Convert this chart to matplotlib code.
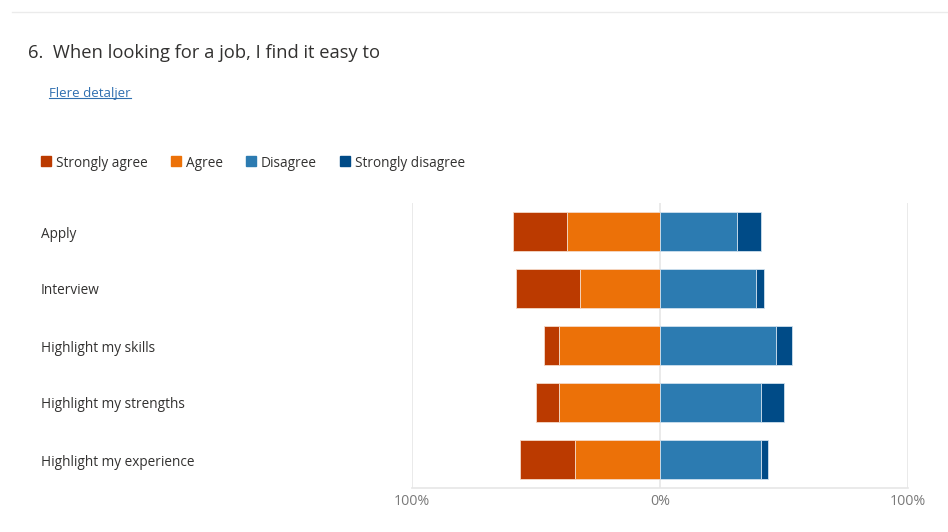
import matplotlib.pyplot as plt
from matplotlib.transforms import blended_transform_factory, offset_copy
from matplotlib.patches import Rectangle
from matplotlib.lines import Line2D

plt.rcParams['font.family'] = ['Open Sans', 'DejaVu Sans']

# survey data (percent of respondents)
questions = ['Apply', 'Interview', 'Highlight my skills',
             'Highlight my strengths', 'Highlight my experience']
strongly_agree = [21.9, 25.8, 6.2, 9.4, 21.9]
agree = [37.5, 32.3, 40.6, 40.6, 34.4]
disagree = [31.2, 38.7, 46.9, 40.6, 40.6]
strongly_disagree = [9.4, 3.2, 6.2, 9.4, 3.1]

series_names = ['Strongly agree', 'Agree', 'Disagree', 'Strongly disagree']
colors = ['#bb3a00', '#ec7108', '#2c7bb1', '#004b87']
tick_vals = [-100, 0, 100]
tick_labels = ['100%', '0%', '100%']

fig = plt.figure(figsize=(9.48, 5.32), dpi=100)
W, H = 948, 532

# thin separator at the top
fig.add_artist(Line2D([12 / W, 1], [1 - 12 / H, 1 - 12 / H], color='#ebebeb', lw=1))

fig.text(28 / W, 1 - 52.5 / H, '6.  When looking for a job, I find it easy to',
         fontsize=13.2, color='#323130', va='center')

link = fig.text(49 / W, 1 - 93 / H, 'Flere detaljer', fontsize=9.5,
                color='#2f6fb0', va='center')
fig.canvas.draw()
bb = link.get_window_extent().transformed(fig.transFigure.inverted())
fig.add_artist(Line2D([bb.x0, bb.x1], [bb.y0 + 1.5 / H, bb.y0 + 1.5 / H],
                      color='#2f6fb0', lw=0.8))

# legend
leg_x = [41, 171, 246, 340]
for x, name, c in zip(leg_x, series_names, colors):
    fig.add_artist(Rectangle((x / W, 1 - 166 / H), 10 / W, 10 / H,
                             transform=fig.transFigure, color=c))
    fig.text((x + 15) / W, 1 - 163 / H, name, fontsize=9.8,
             color='#323130', va='center')

ax = fig.add_axes([412 / W, 1 - 488 / H, 496 / W, 285 / H])
y = list(range(len(questions)))

left_sa = [-(a + s) for a, s in zip(agree, strongly_agree)]
left_a = [-a for a in agree]
edge = '#f4d9c8'
ax.barh(y, strongly_agree, left=left_sa, height=0.68, color=colors[0],
        edgecolor=edge, linewidth=0.6, zorder=3)
ax.barh(y, agree, left=left_a, height=0.68, color=colors[1],
        edgecolor=edge, linewidth=0.6, zorder=3)
ax.barh(y, disagree, left=0, height=0.68, color=colors[2],
        edgecolor='#cfe0ee', linewidth=0.6, zorder=3)
ax.barh(y, strongly_disagree, left=disagree, height=0.68, color=colors[3],
        edgecolor='#cfe0ee', linewidth=0.6, zorder=3)

ax.set_xlim(-100, 100)
ax.set_ylim(len(questions) - 0.5, -0.5)
for v in tick_vals:
    ax.axvline(v, color='#e6e6e6', lw=1.2, zorder=1)
for s in ['top', 'left', 'right']:
    ax.spines[s].set_visible(False)
ax.spines['bottom'].set_color('#e6e6e6')
ax.spines['bottom'].set_linewidth(1.2)
ax.set_xticks(tick_vals)
ax.set_xticklabels(tick_labels, fontsize=10.3, color='#7a7a7a')
ax.tick_params(axis='x', length=0, pad=4)
ax.set_yticks([])

trans = offset_copy(blended_transform_factory(fig.transFigure, ax.transData),
                    fig=fig, y=-2.5, units='dots')
for i, q in enumerate(questions):
    ax.text(41 / W, i, q, transform=trans, fontsize=9.8, color='#323130',
            va='center')

fig.savefig('out.png', dpi=100)
